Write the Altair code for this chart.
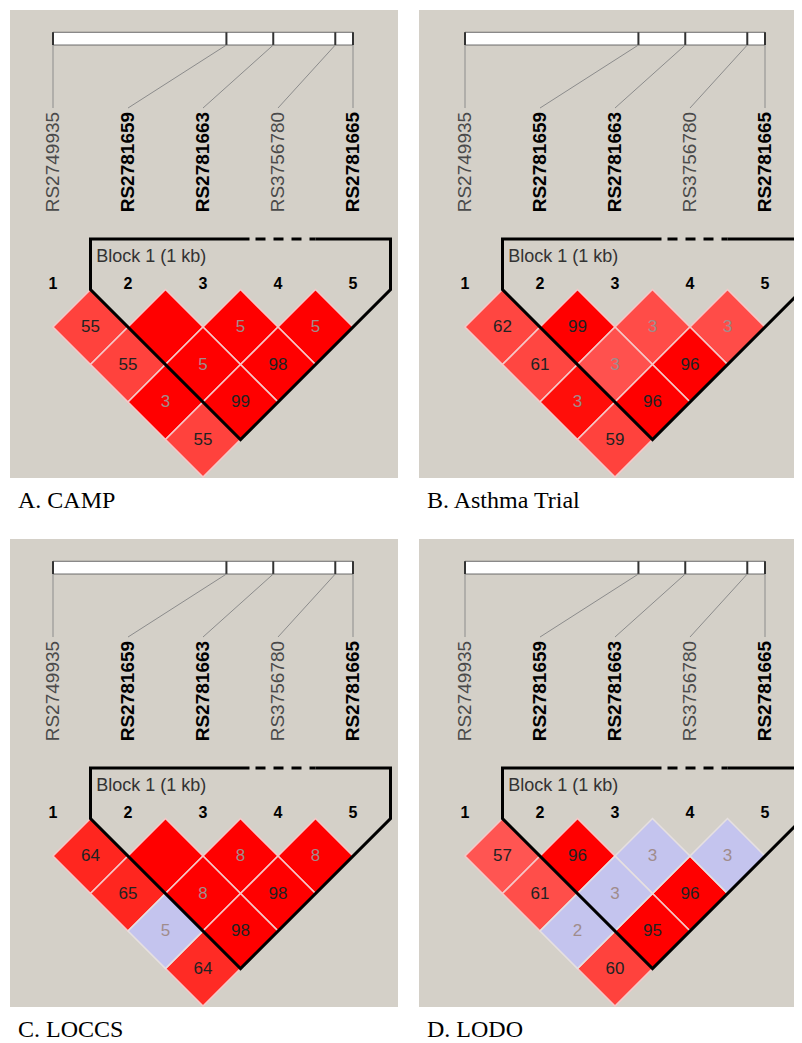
import altair as alt
import pandas as pd

# ---------------- data ----------------
snp_names = ["RS2749935", "RS2781659", "RS2781663", "RS3756780", "RS2781665"]
snp_bold = [False, True, True, False, True]
snp_pos_kb = [0.0, 1.37, 1.74, 2.23, 2.37]
marker_numbers = ["1", "2", "3", "4", "5"]

panel_titles = ["A. CAMP", "B. Asthma Trial", "C. LOCCS", "D. LODO"]

pair_i = [1, 2, 3, 4, 1, 2, 3, 1, 2, 1]
pair_j = [2, 3, 4, 5, 3, 4, 5, 4, 5, 5]

# D' x 100 (100 = D' of 1, drawn blank)
dprime_A = [55, 100, 5, 5, 55, 5, 98, 3, 99, 55]
dprime_B = [62, 99, 3, 3, 61, 3, 96, 3, 96, 59]
dprime_C = [64, 100, 8, 8, 65, 8, 98, 5, 98, 64]
dprime_D = [57, 96, 3, 3, 61, 3, 96, 2, 95, 60]

# LD strength shade (0 = pale red, 1 = full red)
shade_A = [0.5, 1, 1, 1, 0.5, 1, 1, 1, 1, 0.5]
shade_B = [0.45, 1, 0.37, 0.37, 0.45, 0.3, 1, 0.95, 1, 0.5]
shade_C = [0.8, 1, 1, 1, 0.8, 1, 1, 0, 1, 0.75]
shade_D = [0.25, 1, 0, 0, 0.35, 0, 1, 0, 1, 0.5]

# low LOD cells (lavender)
lowlod_A = [False] * 10
lowlod_B = [False] * 10
lowlod_C = [False, False, False, False, False, False, False, True, False, False]
lowlod_D = [False, False, True, True, False, True, False, True, False, False]

block_label = "Block 1 (1 kb)"
block_first, block_last = 2, 5
block_gap_marker = 4

dprimes = [dprime_A, dprime_B, dprime_C, dprime_D]
shades = [shade_A, shade_B, shade_C, shade_D]
lowlods = [lowlod_A, lowlod_B, lowlod_C, lowlod_D]

# ---------------- layout / style ----------------
PX = 75.0                      # pixels per marker unit
PANEL_W = [388, 375]
PANEL_H = 468
MARKER1_OFFSET = [43, 46]      # px from panel left to marker 1
TITLE_OFFSET = [9, 9]          # per row
Y_TOP = -3.727                 # y value at top of panel
BAR_TOP, BAR_BOT = -3.43, -3.26
LEADER_END = -2.42
LABEL_BASE = -1.03
NUM_Y = -0.08
BLOCK_TOP = -0.673
BLOCK_LABEL_Y = -0.44
BG = "#d4d0c8"
SANS = "Liberation Sans"
SERIF = "Liberation Serif"

n = len(snp_names)
pos_max = max(snp_pos_kb)
snp_df = pd.DataFrame({
    "idx": list(range(1, n + 1)),
    "name": snp_names,
    "bold": snp_bold,
    "num": marker_numbers,
    "xg": [1 + (n - 1) * p / pos_max for p in snp_pos_kb],
})
snp_df["bar_top"] = BAR_TOP
snp_df["bar_bot"] = BAR_BOT
snp_df["lead_end"] = LEADER_END
snp_df["label_y"] = LABEL_BASE
snp_df["num_y"] = NUM_Y

bar_df = pd.DataFrame({"x": [1.0], "x2": [float(n)], "y": [BAR_TOP], "y2": [BAR_BOT]})

bl, br = block_first - 0.5, block_last + 0.5
apex_x = (block_first + block_last) / 2
apex_y = (block_last - block_first + 1) / 2
gap_l, gap_r = block_gap_marker - 0.38, block_gap_marker + 0.5
outline_df = pd.DataFrame({
    "x": [gap_l, bl, bl, apex_x, br, br, gap_r],
    "y": [BLOCK_TOP, BLOCK_TOP, 0, apex_y, 0, BLOCK_TOP, BLOCK_TOP],
    "o": list(range(7)),
})
dash_df = pd.DataFrame({"x": [gap_l], "x2": [gap_r], "y": [BLOCK_TOP]})
blabel_df = pd.DataFrame({"x": [bl + 0.075], "y": [BLOCK_LABEL_Y], "t": [block_label]})


def panel(k):
    col = k % 2
    row = k // 2
    x_left = 1 - MARKER1_OFFSET[col] / PX
    xs = alt.Scale(domain=[x_left, x_left + PANEL_W[col] / PX], nice=False, zero=False)
    ys = alt.Scale(domain=[Y_TOP, Y_TOP + PANEL_H / PX], nice=False, zero=False, reverse=True)

    cells = pd.DataFrame({
        "i": pair_i, "j": pair_j,
        "dprime": dprimes[k], "shade": shades[k], "lowlod": lowlods[k],
    })
    cells["x"] = (cells["i"] + cells["j"]) / 2
    cells["y"] = (cells["j"] - cells["i"]) / 2
    cells["label"] = [str(v) if v < 100 else "" for v in cells["dprime"]]

    base_snp = alt.Chart(snp_df)

    bar = alt.Chart(bar_df).mark_rect(fill="white", stroke="#6a6a6a", strokeWidth=1).encode(
        x=alt.X("x:Q", scale=xs, axis=None), x2="x2:Q",
        y=alt.Y("y:Q", scale=ys, axis=None), y2="y2:Q")
    ticks = base_snp.mark_rule(color="#333333", strokeWidth=2).encode(
        x=alt.X("xg:Q", scale=xs, axis=None),
        y=alt.Y("bar_top:Q", scale=ys, axis=None), y2="bar_bot:Q")
    leaders = base_snp.mark_rule(color="#8c8c8c", strokeWidth=1).encode(
        x=alt.X("xg:Q", scale=xs, axis=None), x2="idx:Q",
        y=alt.Y("bar_bot:Q", scale=ys, axis=None), y2="lead_end:Q")
    lab_norm = base_snp.transform_filter("!datum.bold").mark_text(
        angle=270, align="left", baseline="middle", font=SANS, fontSize=19,
        color="#4a4a4a").encode(
        x=alt.X("idx:Q", scale=xs, axis=None), y=alt.Y("label_y:Q", scale=ys, axis=None),
        text="name:N")
    lab_bold = base_snp.transform_filter("datum.bold").mark_text(
        angle=270, align="left", baseline="middle", font=SANS, fontSize=19,
        fontWeight="bold", color="black").encode(
        x=alt.X("idx:Q", scale=xs, axis=None), y=alt.Y("label_y:Q", scale=ys, axis=None),
        text="name:N")
    nums = base_snp.mark_text(font=SANS, fontSize=16, fontWeight="bold", color="black",
                              baseline="middle").encode(
        x=alt.X("idx:Q", scale=xs, axis=None), y=alt.Y("num_y:Q", scale=ys, axis=None),
        text="num:N")

    red = alt.Chart(cells).transform_filter("!datum.lowlod").mark_point(
        shape="diamond", filled=True, size=5625, opacity=1,
        stroke="#f6c8c8", strokeWidth=1.6).encode(
        x=alt.X("x:Q", scale=xs, axis=None), y=alt.Y("y:Q", scale=ys, axis=None),
        fill=alt.Fill("shade:Q", scale=alt.Scale(domain=[0, 1], range=["#ff6666", "#ff0000"]),
                      legend=None))
    blue = alt.Chart(cells).transform_filter("datum.lowlod").mark_point(
        shape="diamond", filled=True, size=5625, opacity=1, fill="#c4c4ee",
        stroke="#e6e0e0", strokeWidth=1.6).encode(
        x=alt.X("x:Q", scale=xs, axis=None), y=alt.Y("y:Q", scale=ys, axis=None))
    ctext = alt.Chart(cells).transform_filter("datum.dprime < 100").mark_text(
        font=SANS, fontSize=17, baseline="middle").encode(
        x=alt.X("x:Q", scale=xs, axis=None), y=alt.Y("y:Q", scale=ys, axis=None),
        text="label:N",
        color=alt.condition("datum.dprime < 20", alt.value("#a08c8c"), alt.value("#222222")))

    outline = alt.Chart(outline_df).mark_line(
        color="black", strokeWidth=3, strokeJoin="miter", clip=True).encode(
        x=alt.X("x:Q", scale=xs, axis=None), y=alt.Y("y:Q", scale=ys, axis=None),
        order="o:Q")
    dashed = alt.Chart(dash_df).mark_rule(
        color="black", strokeWidth=3, strokeDash=[10, 8], strokeDashOffset=-6, clip=True).encode(
        x=alt.X("x:Q", scale=xs, axis=None), x2="x2:Q",
        y=alt.Y("y:Q", scale=ys, axis=None))
    blabel = alt.Chart(blabel_df).mark_text(
        font=SANS, fontSize=18, align="left", baseline="middle", color="#333333").encode(
        x=alt.X("x:Q", scale=xs, axis=None), y=alt.Y("y:Q", scale=ys, axis=None),
        text="t:N")

    return alt.layer(
        bar, ticks, leaders, lab_norm, lab_bold, nums, red, blue, ctext,
        outline, dashed, blabel
    ).properties(
        width=PANEL_W[col], height=PANEL_H,
        title=alt.TitleParams(text=panel_titles[k], orient="bottom", anchor="start",
                              font=SERIF, fontSize=24, fontWeight="normal",
                              color="black", offset=TITLE_OFFSET[row], dx=8),
    )


chart = alt.vconcat(
    alt.hconcat(panel(0), panel(1), spacing=21),
    alt.hconcat(panel(2), panel(3), spacing=21),
    spacing=25,
).configure_view(stroke=None, fill=BG).properties(
    padding={"left": 2, "top": 2, "right": 0, "bottom": 0},
    background="white",
)

chart.save("out.html", embed_options={"renderer": "svg", "actions": False})
